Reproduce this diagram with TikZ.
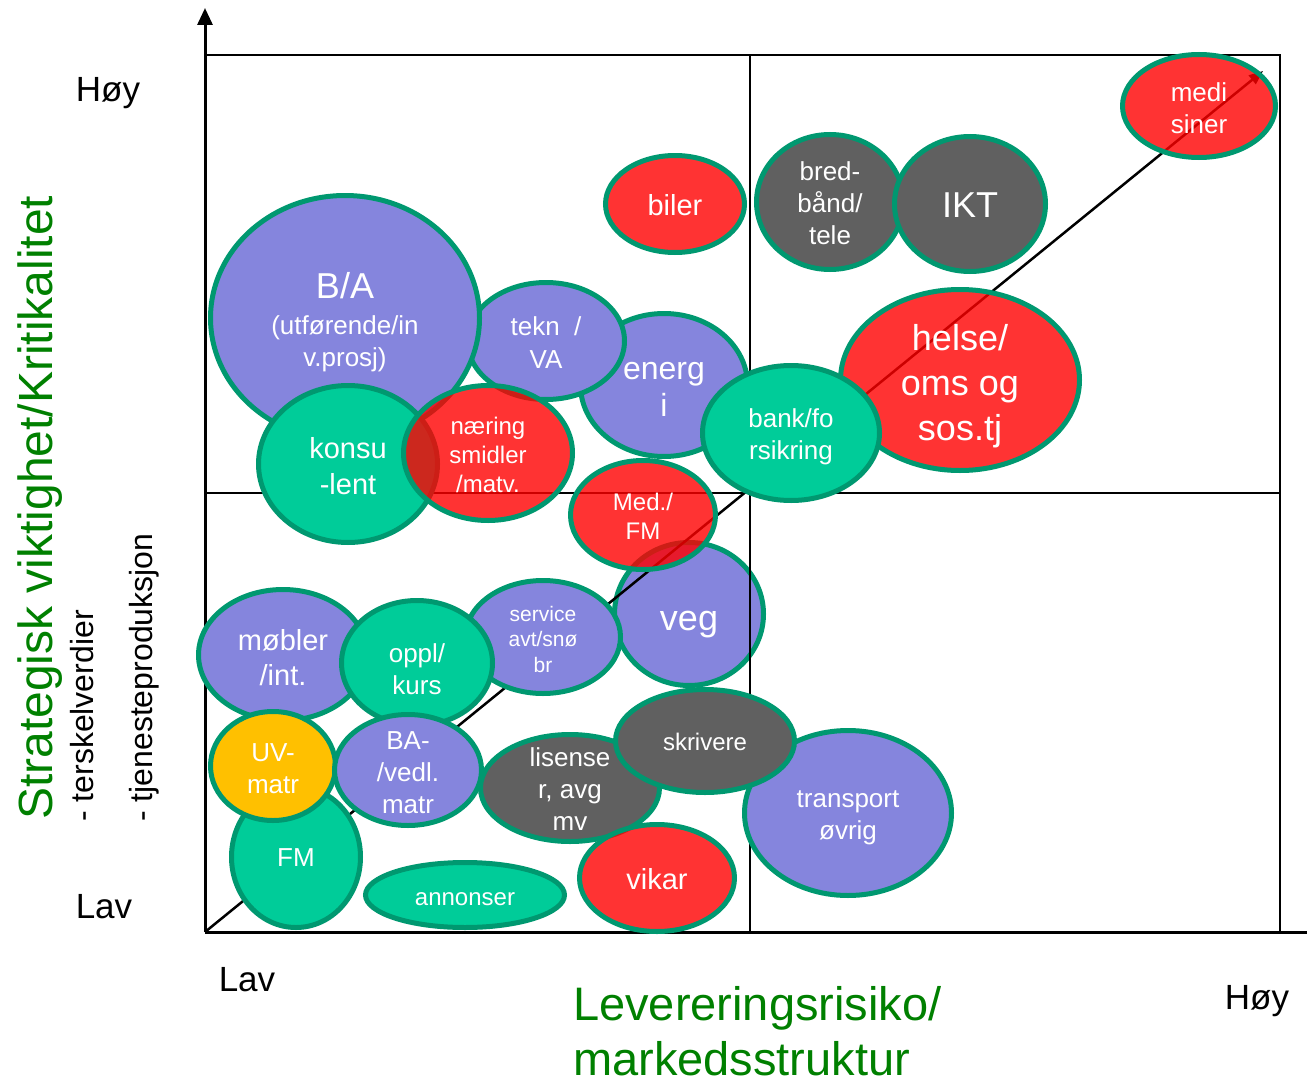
\documentclass[tikz,border=0pt]{standalone}
\usepackage{fontspec}
\setmainfont{Liberation Sans}
\usetikzlibrary{shapes.geometric,arrows.meta}
\definecolor{bpurple}{HTML}{8585DD}
\definecolor{bgreen}{HTML}{00CC99}
\definecolor{bgray}{HTML}{606060}
\definecolor{byellow}{HTML}{FFC000}
\definecolor{bborder}{HTML}{009870}
\definecolor{titlegreen}{HTML}{008000}
\newcommand{\fsz}[2]{\fontsize{#1}{#2}\selectfont}
\begin{document}
\begin{tikzpicture}[x=1pt,y=-1pt,
  bub/.style={ellipse, draw=bborder, line width=5pt, inner sep=0pt, outer sep=0pt},
  rr/.style 2 args={minimum width={2*#1-5}, minimum height={2*#2-5}},
  bpur/.style={bub, fill=bpurple},
  bgrn/.style={bub, fill=bgreen},
  bgry/.style={bub, fill=bgray},
  bylw/.style={bub, fill=byellow},
  bred/.style={bub, fill=red, fill opacity=0.8},
  txt/.style={text=white, align=center, inner sep=0pt, font=\fsz{26}{32}},
  axlabel/.style={text=black, inner sep=0pt, font=\fsz{35}{40}},
  gridline/.style={line width=2pt, draw=black},
  axisline/.style={line width=3pt, draw=black},
]
\useasboundingbox (0,0) rectangle (1307,1081);

% coordinates
\coordinate (O) at (205,932);
\coordinate (Ytop) at (205,8);
\coordinate (Xend) at (1307,932);
\coordinate (TL) at (205,55);
\coordinate (TR) at (1280,55);
\coordinate (BR) at (1280,932);
\coordinate (MT) at (750,55);
\coordinate (MB) at (750,932);
\coordinate (ML) at (205,493);
\coordinate (MR) at (1280,493);
\coordinate (Dend) at (1263,71);

% bubble lying under the lines
\node[bpur, rr={77}{74}] (veg) at (689,614) {};

% grid and axes
\draw[gridline] (TL) -- (TR) -- (BR);
\draw[gridline] (MT) -- (MB);
\draw[gridline] (ML) -- (MR);
\draw[line width=2.5pt, -{Triangle[length=14pt,width=11pt]}] (O) -- (Dend);
\draw[axisline, -{Triangle[length=17pt,width=15pt]}] (O) -- (Ytop);
\draw[axisline] (O) -- (Xend);

% upper bubbles
\node[bpur, rr={86}{74}] (energ) at (664,385) {};
\node[bpur, rr={81}{61}] (tekn) at (546,341) {};
\node[bpur, rr={137}{125}] (ba) at (345,318) {};
\node[bgrn, rr={92}{81}] (konsu) at (348,464) {};
\node[bred, rr={87}{70}] (naering) at (488,453) {};
\node[bred, rr={122}{93}] (helse) at (960,380) {};
\node[bgrn, rr={91}{70}] (bank) at (791,433) {};
\node[bred, rr={72}{51}] (biler) at (675,204) {};
\node[bgry, rr={76}{70}] (bred) at (830,202) {};
\node[bgry, rr={78}{70}] (ikt) at (970,204) {};
\node[bred, rr={79}{54}] (medi) at (1199,106) {};
\node[bred, rr={75}{57}] (medfm) at (643,515) {};

% lower bubbles
\node[bpur, rr={80}{59}] (service) at (543,637) {};
\node[bpur, rr={87}{68}] (mobler) at (283,655) {};
\node[bgrn, rr={78}{65}] (oppl) at (417,663) {};
\node[bgrn, rr={67}{73}] (fm) at (296,857) {};
\node[bylw, rr={65}{57}] (uv) at (273,766) {};
\node[bpur, rr={76}{58}] (bav) at (408,770) {};
\node[bgry, rr={92}{56}] (lisens) at (570,788) {};
\node[bpur, rr={106}{85}] (transp) at (848,813) {};
\node[bgry, rr={92}{54}] (skriv) at (705,741) {};
\node[bred, rr={80}{56}] (vikar) at (657,878) {};
\node[bgrn, rr={102}{35}] (annon) at (465,895) {};

% bubble texts
\node[txt, yshift=-4pt] (t-ba) at (ba) {{\fsz{36}{40}B/A}\\[4pt](utførende/in\\v.prosj)};
\node[txt, font=\fsz{26}{33}, yshift=-2pt] (t-tekn) at (tekn) {tekn\ \ /\\VA};
\node[txt, font=\fsz{32}{37}, yshift=-4pt] (t-energ) at (energ) {energ\\i};
\node[txt, font=\fsz{29}{34}, yshift=-1pt] (t-biler) at (biler) {biler};
\node[txt, yshift=-1pt] (t-bred) at (bred) {bred-\\bånd/\\tele};
\node[txt, font=\fsz{36}{40}, yshift=-1pt] (t-ikt) at (ikt) {IKT};
\node[txt, yshift=-2pt] (t-medi) at (medi) {medi\\siner};
\node[txt, font=\fsz{36}{45}, yshift=-6pt] (t-helse) at (helse) {helse/\\oms og\\sos.tj};
\node[txt, yshift=-4pt] (t-bank) at (bank) {bank/fo\\rsikring};
\node[txt, font=\fsz{29}{36}, yshift=-2pt] (t-konsu) at (konsu) {konsu\\-lent};
\node[txt, font=\fsz{24}{29}, yshift=-2pt] (t-naering) at (naering) {næring\\smidler\\/matv.};
\node[txt, font=\fsz{24}{29}, yshift=-1pt] (t-medfm) at (medfm) {Med./\\FM};
\node[txt, font=\fsz{36}{40}, yshift=-11pt] (t-veg) at (veg) {veg};
\node[txt, font=\fsz{21}{25.5}, yshift=-2pt] (t-service) at (service) {service\\avt/snø\\br};
\node[txt, font=\fsz{29}{35}, yshift=-3pt] (t-mobler) at (mobler) {møbler\\/int.};
\node[txt, yshift=-6pt] (t-oppl) at (oppl) {oppl/\\kurs};
\node[txt, yshift=-3pt] (t-uv) at (uv) {UV-\\matr};
\node[txt, yshift=-1pt] (t-fm) at (fm) {FM};
\node[txt, yshift=-3pt] (t-bav) at (bav) {BA-\\/vedl.\\matr};
\node[txt, yshift=-1pt] (t-lisens) at (lisens) {lisense\\r, avg\\mv};
\node[txt, yshift=-5pt] (t-transp) at (transp) {transport\\øvrig};
\node[txt, font=\fsz{24}{29}, yshift=-1pt] (t-skriv) at (skriv) {skrivere};
\node[txt, font=\fsz{29}{34}, yshift=-1pt] (t-vikar) at (vikar) {vikar};
\node[txt, font=\fsz{24}{29}, yshift=-4pt] (t-annon) at (annon) {annonser};

% axis labels
\node[axlabel, anchor=base] (yhigh) at (108,101) {Høy};
\node[axlabel, anchor=base] (ylow) at (104,918) {Lav};
\node[axlabel, anchor=base] (xlow) at (247,991) {Lav};
\node[axlabel, anchor=base] (xhigh) at (1257,1009) {Høy};
\node[text=titlegreen, inner sep=0pt, font=\fsz{47}{55}, align=left, anchor=base west] (xtitle) at (573,1075) {Levereringsrisiko/\\\smash{markedsstruktur}};
\node[text=titlegreen, inner sep=0pt, font=\fsz{48}{55}, rotate=90, anchor=base west] (ytitle) at (52,820) {Strategisk viktighet/Kritikalitet};
\node[text=black, inner sep=0pt, font=\fsz{32}{36}, rotate=90, anchor=base west] (ysub1) at (93,822) {- terskelverdier};
\node[text=black, inner sep=0pt, font=\fsz{32}{36}, rotate=90, anchor=base west] (ysub2) at (152,822) {- tjenesteproduksjon};
\end{tikzpicture}
\end{document}
